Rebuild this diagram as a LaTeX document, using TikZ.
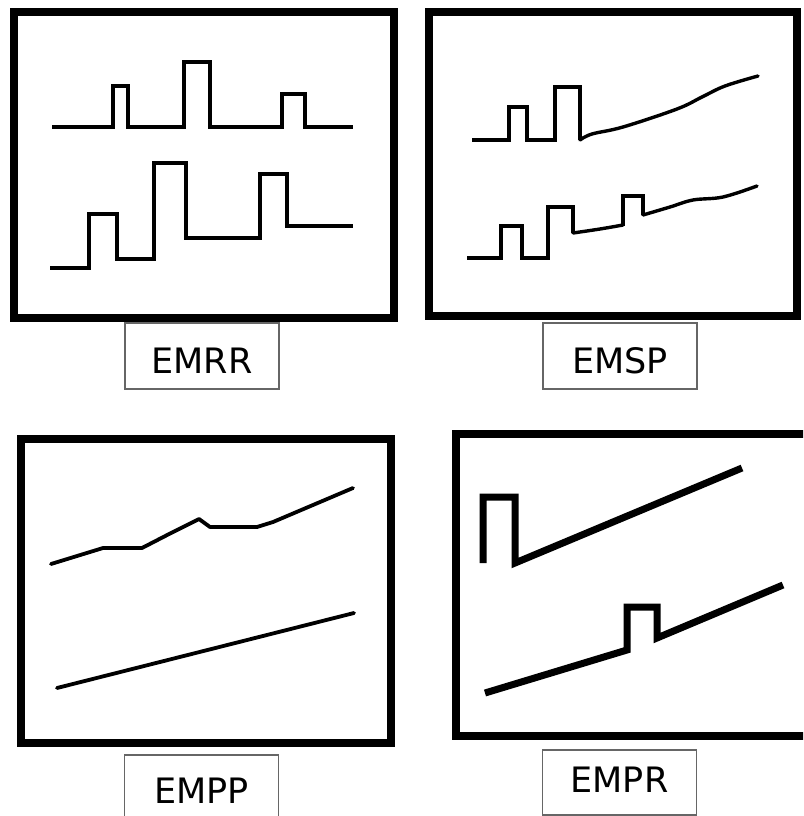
\documentclass[tikz,border=0pt]{standalone}
\usepackage{fontspec}
\setmainfont{DejaVu Sans}
\begin{document}
\begin{tikzpicture}[x=1pt,y=-1pt,
  frame/.style={draw=black, line width=7.5pt, rectangle, inner sep=0pt},
  tagbox/.style={draw=black!60, line width=1.2pt, rectangle, inner sep=0pt,
                 minimum width=154pt, minimum height=66pt},
  tagtext/.style={font=\fontsize{35}{38}\selectfont, text=black, inner sep=0pt},
  trace/.style={line width=3.8pt, line join=miter},
  thintrace/.style={line width=3.4pt, line join=round, line cap=round},
  heavytrace/.style={line width=7pt, line join=miter}]
\useasboundingbox (0,0) rectangle (803,816);
\clip (0,0) rectangle (803,816);
\fill[white] (0,0) rectangle (803,816);

% frames
\node[frame, minimum width=380pt, minimum height=306pt] (f1) at (204,165) {};
\node[frame, minimum width=368pt, minimum height=304pt] (f2) at (613,164) {};
\node[frame, minimum width=370pt, minimum height=304pt] (f3) at (206,591) {};
\node[frame, minimum width=354pt, minimum height=302pt] (f4) at (633,585) {};

% captions
\node[tagbox] (b1) at (202,356) {};
\node[tagtext] (t1) at (202,360.5) {EMRR};
\node[tagbox] (b2) at (620,356) {};
\node[tagtext] (t2) at (620,360.5) {EMSP};
\node[tagbox] (b3) at (201.5,788) {};
\node[tagtext] (t3) at (201.5,790.5) {EMPP};
\node[tagbox, minimum height=65pt] (b4) at (619.5,782.5) {};
\node[tagtext] (t4) at (619.5,779.5) {EMPR};

% EMRR: two pulse trains
\draw[trace] (52,127) -| (113,86) -| (128,127) -| (184,62) -| (210,127)
  -| (282,94) -| (305,127) -- (353,127);
\draw[trace] (50,268) -| (89,214) -| (117,259) -| (154,163) -| (186,238)
  -| (260,174) -| (287,226) -- (353,226);

% EMSP: pulses followed by a rising drift
\draw[trace] (472,140) -| (509,107) -| (527,140) -| (555,87) -| (580,140);
\draw[thintrace] plot[smooth, tension=0.6] coordinates
  {(580,140) (592,134) (623,127) (677,109) (702,97) (725,86) (758,76)};
\draw[trace] (467,258) -| (501,226) -| (522,258) -| (548,207) -| (573,233);
\draw[thintrace] plot[smooth, tension=0.6] coordinates
  {(573,233) (600,229) (623,225)};
\draw[trace] (623,226) -- (623,196) -| (643,215);
\draw[thintrace] plot[smooth, tension=0.6] coordinates
  {(643,215) (670,207) (693,200) (723,197) (757,186)};

% EMPP: drifting lines
\draw[thintrace, line width=3.8pt] (51,564) -- (103,548) -- (142,548) -- (173,532)
  -- (199,519) -- (210,527) -- (257,527) -- (273,522) -- (353,488);
\draw[thintrace, line width=3.8pt] (57,688) -- (354,613);

% EMPR: single pulses on ramps
\draw[heavytrace] (483,563) -- (483,497) -- (515,497) -- (515,563) -- (742,468);
\draw[heavytrace] (485,693) -- (627,650) -- (627,607) -- (657,607) -- (657,638) -- (783,585);
\end{tikzpicture}
\end{document}
